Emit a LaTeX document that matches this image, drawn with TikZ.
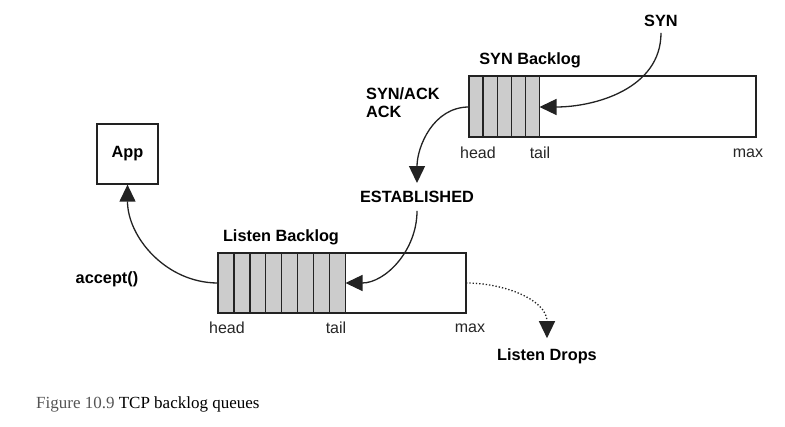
\documentclass[tikz,border=0pt]{standalone}
\usepackage{fontspec}
\setmainfont{Liberation Sans}
\newfontfamily\capfont{Liberation Serif}
\usetikzlibrary{arrows.meta}
\definecolor{cellgray}{HTML}{CCCCCC}
\definecolor{linec}{HTML}{222222}
\definecolor{capgray}{HTML}{555555}
\begin{document}
\begin{tikzpicture}[x=1pt,y=-1pt,
  boxline/.style={draw=linec,line width=1.3pt},
  cellfill/.style={fill=cellgray},
  bold/.style={font=\fontsize{16.3}{18}\selectfont\bfseries,text=black,inner sep=0pt},
  small/.style={font=\fontsize{16}{18}\selectfont,text=black!85,inner sep=0pt},
  flow/.style={draw=linec,line width=1.3pt,-{Triangle[length=17pt,width=16pt]}},
  dotflow/.style={flow,dotted}]
\useasboundingbox (0,0) rectangle (785,427);
% SYN backlog
\fill[cellfill] (469,76) rectangle (539.5,137);
\foreach \i in {1,...,5}{
  \draw[boxline] ({469+\i*14.1},76) -- ({469+\i*14.1},137);
}
\draw[boxline] (469,76) rectangle (756,137);
\coordinate (synhead) at (469,107);
\coordinate (syntail) at (539.5,107);
\node[bold] (synlbl) at (530,60) {SYN Backlog};
\node[bold] (syn) at (661,21) {SYN};
\node[bold,align=left,anchor=north west] (synack) at (366,87) {SYN/ACK\\ACK};
\node[small] at (478,153) {head};
\node[small] at (540,153) {tail};
\node[small] at (748,153) {max};
% App
\node[boxline,minimum width=61pt,minimum height=60pt,inner sep=0pt,font=\fontsize{16.3}{18}\selectfont\bfseries] (app) at (127.5,154) {App};
% ESTABLISHED
\node[bold] (est) at (417,197) {ESTABLISHED};
% Listen backlog
\fill[cellfill] (218,253) rectangle (345.5,313);
\foreach \i in {1,...,8}{
  \draw[boxline] ({218+\i*15.94},253) -- ({218+\i*15.94},313);
}
\draw[boxline] (218,253) rectangle (466,313);
\coordinate (lhead) at (218,283);
\coordinate (ltail) at (345.5,283);
\coordinate (lmax) at (466,283);
\node[bold] (llbl) at (281,237) {Listen Backlog};
\node[bold] (accept) at (107,279) {accept()};
\node[small] at (227,328) {head};
\node[small] at (336,328) {tail};
\node[small] at (470,328) {max};
\node[bold] (drops) at (547,356) {Listen Drops};
% arrows
\draw[flow] (syn.south) ++(0,6) to[out=-90,in=0] (syntail);
\draw[flow] (synhead) to[out=180,in=90] ([yshift=8pt]est.north);
\draw[flow] ([yshift=-8pt]est.south) to[out=-90,in=0] (ltail);
\draw[flow] (lhead) to[out=180,in=-90] (app.south);
\draw[dotflow] (lmax) to[out=0,in=90] ([yshift=10pt]drops.north);
% caption
\node[anchor=west,inner sep=0pt,font=\capfont\fontsize{17}{19}\selectfont] (cap) at (36,404) {\textcolor{capgray}{Figure 10.9} TCP backlog queues};
\end{tikzpicture}
\end{document}
